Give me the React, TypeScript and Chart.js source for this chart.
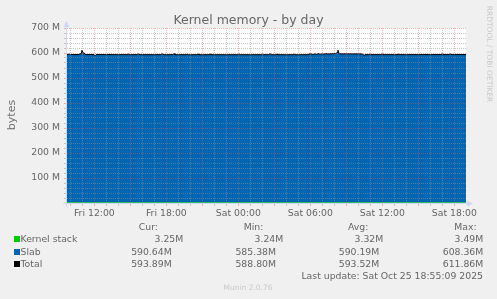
import React, { useEffect, useRef } from "react";
import { Chart, registerables } from "chart.js";

Chart.register(...registerables);

// ---- data (hours since Fri 00:00, values in M bytes) ----
const hours = [
  9.72, 9.81, 9.89, 9.97, 10.72, 10.81, 10.89, 10.98, 11.06, 11.14, 11.22, 11.97, 12.06, 12.14,
  14.72, 14.81, 14.89, 15.56, 15.64, 15.72, 17.56, 17.64, 17.72, 18.56, 18.64, 18.72,
  19.65, 19.73, 19.81, 20.56, 20.64, 20.72, 21.56, 21.64, 21.72, 23.97, 24.06, 24.14,
  25.9, 25.98, 26.06, 26.56, 26.64, 26.72, 27.14, 27.22, 27.3, 28.56, 28.64, 28.72,
  29.8, 29.89, 29.97, 30.05, 30.14, 30.3, 30.39, 30.55, 30.64, 30.8, 30.97, 31.14, 31.3, 31.47,
  31.64, 31.8, 31.97, 32.14, 32.22, 32.3, 32.39, 32.47, 33.0, 33.5, 34.0, 34.3, 34.39, 34.47,
  34.55, 34.89, 34.97, 35.05, 35.89, 35.97, 36.05, 37.22, 37.3, 37.39, 40.89, 40.97, 41.05,
  41.56, 41.64, 41.72, 42.97,
];
const slab = [
  590.4, 590.4, 593.8, 590.5, 590.6, 594.5, 592.0, 608.36, 596.0, 597.5, 590.8, 590.5, 585.38, 590.3,
  590.2, 593.5, 590.2, 590.2, 594.5, 590.2, 590.1, 594.8, 590.1, 590.1, 594.6, 590.1,
  590.0, 592.8, 590.0, 590.0, 593.0, 590.0, 590.0, 593.2, 590.0, 590.0, 593.4, 590.0,
  590.0, 592.8, 590.0, 590.0, 595.0, 590.0, 590.0, 593.0, 590.0, 590.0, 593.2, 590.0,
  590.0, 593.5, 592.5, 594.0, 591.5, 591.2, 593.8, 591.0, 594.2, 592.0, 593.0, 592.5, 594.5, 593.0,
  593.6, 594.0, 593.8, 594.5, 599.0, 607.5, 595.5, 593.5, 593.4, 593.3, 593.3, 593.2, 590.5, 587.5,
  590.2, 590.2, 593.0, 590.2, 590.2, 593.5, 590.2, 590.2, 593.2, 590.2, 590.3, 593.5, 590.3,
  590.4, 593.8, 590.4, 590.64,
];
const kernelStack = [
  3.27, 3.27, 3.28, 3.27, 3.26, 3.3, 3.28, 3.49, 3.36, 3.33, 3.28, 3.27, 3.42, 3.26,
  3.25, 3.28, 3.25, 3.25, 3.3, 3.25, 3.26, 3.31, 3.26, 3.25, 3.3, 3.25,
  3.25, 3.27, 3.25, 3.25, 3.28, 3.25, 3.24, 3.28, 3.24, 3.25, 3.29, 3.25,
  3.25, 3.27, 3.25, 3.25, 3.31, 3.25, 3.25, 3.27, 3.25, 3.25, 3.28, 3.25,
  3.25, 3.3, 3.29, 3.31, 3.28, 3.27, 3.3, 3.27, 3.31, 3.28, 3.29, 3.28, 3.31, 3.29,
  3.3, 3.3, 3.3, 3.32, 3.38, 3.46, 3.34, 3.3, 3.3, 3.3, 3.29, 3.29, 3.27, 3.4,
  3.26, 3.25, 3.28, 3.25, 3.25, 3.29, 3.25, 3.25, 3.28, 3.25, 3.25, 3.29, 3.25,
  3.25, 3.29, 3.25, 3.25,
];

const xMin = 9.72;
const xMax = 42.97;
const xTickHours = [12, 18, 24, 30, 36, 42];
const xTickLabels = ["Fri 12:00", "Fri 18:00", "Sat 00:00", "Sat 06:00", "Sat 12:00", "Sat 18:00"];
const yMax = 700;
const yLabelStep = 100;
const yMinorStep = 20;

const legendNames = ["Kernel stack", "Slab", "Total"];
const legendColors = ["#00CC00", "#0066B3", "#000000"];
const headers = ["Cur:", "Min:", "Avg:", "Max:"];
const curValues = ["3.25M", "590.64M", "593.89M"];
const minValues = ["3.24M", "585.38M", "588.80M"];
const avgValues = ["3.32M", "590.19M", "593.52M"];
const maxValues = ["3.49M", "608.36M", "611.86M"];

const FONT = "'DejaVu Sans', sans-serif";
const TXT = "#666666";
const MINOR = "rgba(150,150,150,0.5)";
const MAJOR = "rgba(230,90,90,0.45)";
const AXIS = "#CFD6F8";

function Txt(props: { x: number; y: number; align?: "left" | "right" | "center"; size?: number; color?: string; children: any }) {
  const { x, y, align = "left", size = 9.3, color = TXT } = props;
  let tx = "0";
  if (align === "right") tx = "-100%";
  if (align === "center") tx = "-50%";
  return (
    <div
      style={{
        position: "absolute",
        left: x,
        top: y,
        transform: `translate(${tx},-50%)`,
        fontSize: size,
        lineHeight: 1,
        color,
        whiteSpace: "pre",
        fontFamily: FONT,
      }}
    >
      {props.children}
    </div>
  );
}

function VTxt(props: { cx: number; cy: number; w: number; h: number; size: number; color: string; rotate: number; children: any }) {
  const { cx, cy, w, h, size, color, rotate } = props;
  return (
    <div
      style={{
        position: "absolute",
        left: cx - w / 2,
        top: cy - h / 2,
        width: w,
        height: h,
        lineHeight: `${h}px`,
        textAlign: "center",
        transform: `rotate(${rotate}deg)`,
        fontSize: size,
        color,
        whiteSpace: "pre",
        fontFamily: FONT,
      }}
    >
      {props.children}
    </div>
  );
}

export default function App() {
  const ref = useRef<HTMLCanvasElement | null>(null);

  useEffect(() => {
    if (!ref.current) return;
    const kernelPts = hours.map((h, i) => ({ x: h, y: kernelStack[i] }));
    const topPts = hours.map((h, i) => ({ x: h, y: kernelStack[i] + slab[i] }));

    const bgAxes = {
      id: "bgAxes",
      beforeDraw(chart: any) {
        const { ctx, chartArea: a } = chart;
        ctx.save();
        ctx.fillStyle = "#ffffff";
        ctx.fillRect(a.left, a.top, a.right - a.left, a.bottom - a.top);
        ctx.restore();
      },
      afterDraw(chart: any) {
        const { ctx, chartArea: a } = chart;
        ctx.save();
        ctx.strokeStyle = AXIS;
        ctx.fillStyle = AXIS;
        ctx.lineWidth = 1;
        ctx.beginPath();
        ctx.moveTo(a.left - 0.5, a.bottom + 4);
        ctx.lineTo(a.left - 0.5, a.top - 4);
        ctx.moveTo(a.left - 4, a.bottom + 0.5);
        ctx.lineTo(a.right + 4, a.bottom + 0.5);
        ctx.stroke();
        ctx.beginPath();
        ctx.moveTo(a.left - 3.5, a.top - 1);
        ctx.lineTo(a.left + 2.5, a.top - 1);
        ctx.lineTo(a.left - 0.5, a.top - 7);
        ctx.closePath();
        ctx.fill();
        ctx.beginPath();
        ctx.moveTo(a.right + 1, a.bottom - 2.5);
        ctx.lineTo(a.right + 1, a.bottom + 3.5);
        ctx.lineTo(a.right + 7, a.bottom + 0.5);
        ctx.closePath();
        ctx.fill();
        ctx.restore();
      },
    };

    const chart = new Chart(ref.current, {
      type: "line",
      data: {
        datasets: [
          {
            label: "Kernel stack",
            data: kernelPts,
            fill: "origin",
            backgroundColor: "#00CC00",
            borderColor: "rgba(0,0,0,0)",
            borderWidth: 0,
            pointRadius: 0,
            order: 2,
          },
          {
            label: "Slab",
            data: topPts,
            fill: "-1",
            backgroundColor: "#0066B3",
            borderColor: "rgba(0,0,0,0)",
            borderWidth: 0,
            pointRadius: 0,
            order: 1,
          },
          {
            label: "Total",
            data: topPts,
            fill: false,
            borderColor: "#000000",
            borderWidth: 1,
            pointRadius: 0,
            order: 0,
          },
        ],
      } as any,
      plugins: [bgAxes],
      options: {
        animation: false,
        responsive: false,
        devicePixelRatio: 1,
        events: [],
        layout: { padding: { top: 28, right: 31, left: 0, bottom: 0 } },
        plugins: { legend: { display: false }, title: { display: false }, tooltip: { enabled: false } },
        scales: {
          x: {
            type: "linear",
            min: xMin,
            max: xMax,
            afterBuildTicks: (scale: any) => {
              const t: any[] = [];
              for (let h = Math.ceil(xMin); h <= Math.floor(xMax); h++) t.push({ value: h });
              scale.ticks = t;
            },
            afterFit: (scale: any) => {
              scale.height = 96;
            },
            grid: {
              z: 1,
              color: (c: any) => (c.tick && c.tick.value % 3 === 0 ? MAJOR : MINOR),
              tickColor: (c: any) => (c.tick && c.tick.value % 3 === 0 ? MAJOR : MINOR),
              tickLength: 3,
              lineWidth: 1,
            },
            border: { display: false, dash: [1, 1] },
            ticks: {
              autoSkip: false,
              maxRotation: 0,
              minRotation: 0,
              padding: 2,
              color: TXT,
              font: { family: FONT, size: 9.3 },
              callback: (v: any) => {
                const i = xTickHours.indexOf(Number(v));
                return i >= 0 ? xTickLabels[i] : "";
              },
            },
          },
          y: {
            type: "linear",
            min: 0,
            max: yMax,
            afterBuildTicks: (scale: any) => {
              const t: any[] = [];
              for (let v = 0; v <= yMax; v += yMinorStep) t.push({ value: v });
              scale.ticks = t;
            },
            afterFit: (scale: any) => {
              scale.width = 67;
            },
            grid: {
              z: 1,
              color: (c: any) => (c.tick && c.tick.value % yLabelStep === 0 ? MAJOR : MINOR),
              tickColor: (c: any) => (c.tick && c.tick.value % yLabelStep === 0 ? MAJOR : MINOR),
              tickLength: 3,
              lineWidth: 1,
            },
            border: { display: false, dash: [1, 1] },
            ticks: {
              autoSkip: false,
              padding: 4,
              color: TXT,
              font: { family: FONT, size: 9.3 },
              callback: (v: any) => (Number(v) % yLabelStep === 0 && Number(v) > 0 ? `${v} M` : ""),
            },
          },
        },
      } as any,
    });
    return () => chart.destroy();
  }, []);

  const rowsY = [239.3, 251.7, 263.7];
  const colRight = [
    [183.3, 171.7, 171.7],
    [283.3, 276, 276],
    [383.3, 379.3, 379.3],
    [483.3, 483.3, 483.3],
  ];
  const headerRight = [158, 263.3, 368.3, 476.7];
  const cols = [curValues, minValues, avgValues, maxValues];

  return (
    <div
      style={{
        position: "fixed",
        left: 0,
        top: 0,
        width: 497,
        height: 299,
        background: "#f0f0f0",
        overflow: "hidden",
        fontFamily: FONT,
      }}
    >
      <canvas ref={ref} width={497} height={299} style={{ display: "block", position: "absolute", left: 0, top: 0 }} />
      <Txt x={248.5} y={19.7} align="center" size={12.5}>
        Kernel memory - by day
      </Txt>
      <VTxt cx={12} cy={115} w={40} h={14} size={11} color="#707070" rotate={-90}>
        bytes
      </VTxt>
      <VTxt cx={489} cy={54} w={110} h={10} size={7.5} color="#c8c8c8" rotate={90}>
        RRDTOOL / TOBI OETIKER
      </VTxt>
      {headers.map((h, i) => (
        <Txt key={h} x={headerRight[i]} y={227} align="right">
          {h}
        </Txt>
      ))}
      {legendNames.map((n, r) => (
        <React.Fragment key={n}>
          <div
            style={{
              position: "absolute",
              left: 14,
              top: rowsY[r] - 3,
              width: 6,
              height: 6,
              background: legendColors[r],
            }}
          />
          <Txt x={20.5} y={rowsY[r]}>
            {n}
          </Txt>
          {cols.map((c, ci) => (
            <Txt key={ci} x={colRight[ci][r]} y={rowsY[r]} align="right">
              {c[r]}
            </Txt>
          ))}
        </React.Fragment>
      ))}
      <Txt x={483} y={275.7} align="right">
        Last update: Sat Oct 25 18:55:09 2025
      </Txt>
      <Txt x={248} y={288} align="center" size={7.5} color="#c8c8c8">
        Munin 2.0.76
      </Txt>
    </div>
  );
}
